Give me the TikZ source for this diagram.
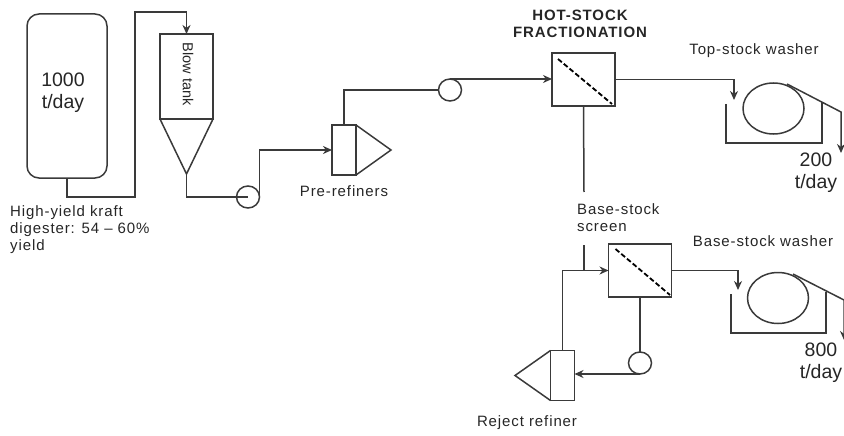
\documentclass[tikz,border=0pt]{standalone}
\usepackage{fontspec}
\setmainfont{Liberation Sans}
\usepackage{xcolor}
\usetikzlibrary{arrows.meta,shapes.geometric}
\definecolor{ink}{HTML}{3A3A3A}
\newcommand{\labfont}{\fontsize{15}{17}\selectfont\addfontfeature{LetterSpace=6}}

\begin{document}
\begin{tikzpicture}[x=1pt,y=-1pt,>={Stealth[length=9pt,width=8pt]},
  unit/.style={draw=ink,line width=1.5pt,outer sep=0pt,inner sep=0pt},
  vessel/.style={unit,rounded corners=12pt,minimum width=80pt,minimum height=164pt},
  tank/.style={unit,minimum width=53pt,minimum height=85pt},
  refiner/.style={unit,minimum width=24pt,minimum height=50pt},
  screen/.style={unit,minimum width=63pt,minimum height=53pt},
  pump/.style={unit,ellipse,minimum width=23pt,minimum height=22pt},
  drum/.style={unit,ellipse,minimum width=61pt,minimum height=51pt},
  pipe/.style={draw=ink,line width=1.5pt},
  flow/.style={pipe,->},
  mesh/.style={draw=black,line width=1.8pt,dash pattern=on 5pt off 2.5pt},
  lab/.style={font=\labfont,align=left,inner sep=0pt,text=black!85},
  big/.style={font=\fontsize{19.5}{22}\selectfont,align=center,inner sep=0pt,text=black!85}]
  \useasboundingbox (0,0) rectangle (844,436);

  % units
  \node[vessel] (digester) at (67,96) {};
  \node[tank] (blow) at (186.5,76.5) {};
  \node[refiner] (pre) at (344,150) {};
  \node[screen] (hot) at (583.5,79.5) {};
  \node[screen] (base) at (640,270.5) {};
  \node[refiner] (rej) at (562.5,375.5) {};
  \foreach \x/\y/\n in {248/197/pumpa,450/90/pumpb,640/363/pumpc}{
    \node[pump] (\n) at (\x,\y) {};
  }
  \node[drum] (topdrum) at (773.5,108.5) {};
  \node[drum] (basedrum) at (778,298) {};

  % cone and refiner heads
  \coordinate (tip) at (186.5,174);
  \draw[pipe] (blow.south west) -- (tip) -- (blow.south east);
  \coordinate (prehead) at (391,150);
  \draw[pipe] (pre.north east) -- (prehead) -- (pre.south east);
  \coordinate (rejhead) at (515,375.5);
  \draw[pipe] (rej.north west) -- (rejhead) -- (rej.south west);

  % screen plates
  \draw[mesh] (hot.north west) ++(6,6) -- (612,104);
  \draw[mesh] (base.north west) ++(7,5) -- (670,295);

  % main line
  \coordinate (riser) at (135,197);
  \coordinate (crest) at (135,12);
  \draw[pipe] (digester.south) |- (riser) -- (crest) -| (blow.north);
  \draw[flow] (186.5,20) -- (blow.north);
  \draw[pipe] (tip) |- (pumpa.center);
  \draw[flow] (pumpa.east) |- (pre.west);
  \draw[pipe] (pre.north) |- (pumpb.west);
  \draw[flow] (pumpb.north) -- (hot.west |- pumpb.north);

  % top-stock washer
  \coordinate (topfeed) at (734,100);
  \draw[flow] (hot.east) -| (topfeed);
  \coordinate (topa) at (726,104);
  \coordinate (topb) at (822,102);
  \draw[pipe] (topa) |- (726,143) -| (topb);
  \coordinate (topoff) at (787,84);
  \coordinate (topelbow) at (841,112);
  \coordinate (topout) at (841,153);
  \draw[flow] (topoff) -- (topelbow) -- (topout);

  % base-stock line
  \coordinate (gapa) at (584,192);
  \coordinate (gapb) at (584,245);
  \coordinate (join) at (584,270.5);
  \draw[pipe] (hot.south) -- (gapa);
  \draw[pipe] (gapb) -- (join);
  \draw[flow] (rej.north) |- (base.west);
  \draw[pipe] (base.south) -- (pumpc.north);
  \draw[flow] (pumpc.south) -- (rej.east |- pumpc.south);

  % base-stock washer
  \coordinate (basefeed) at (738,290);
  \draw[flow] (base.east) -| (basefeed);
  \coordinate (basea) at (731,294);
  \coordinate (baseb) at (826,292);
  \draw[pipe] (basea) |- (731,333) -| (baseb);
  \coordinate (baseoff) at (793,274);
  \coordinate (baseelbow) at (844,300);
  \coordinate (baseout) at (844,340);
  \draw[flow] (baseoff) -- (baseelbow) -- (baseout);

  % labels
  \node[big] (feedlab) at (63,93) {1000\\t/day};
  \node[lab,rotate=-90,font=\fontsize{14.5}{16}\selectfont] (blowlab) at (188,74) {Blow tank};
  \node[lab,anchor=north west] (digesterlab) at (10,205) {High-yield kraft\\digester: 54 -- 60\%\\yield};
  \node[lab] (prelab) at (344,191) {Pre-refiners};
  \node[lab,align=center,font=\labfont\bfseries] (hotlab) at (580,23.5) {HOT-STOCK\\FRACTIONATION};
  \node[lab] (toplab) at (754,51) {Top-stock washer};
  \node[big] (toprate) at (816,173) {200\\t/day};
  \node[lab,anchor=north west] (screenlab) at (577,203) {Base-stock\\screen};
  \node[lab] (baselab) at (763,241) {Base-stock washer};
  \node[big] (baserate) at (821,363) {800\\t/day};
  \node[lab] (rejlab) at (527,423) {Reject refiner};
\end{tikzpicture}
\end{document}
